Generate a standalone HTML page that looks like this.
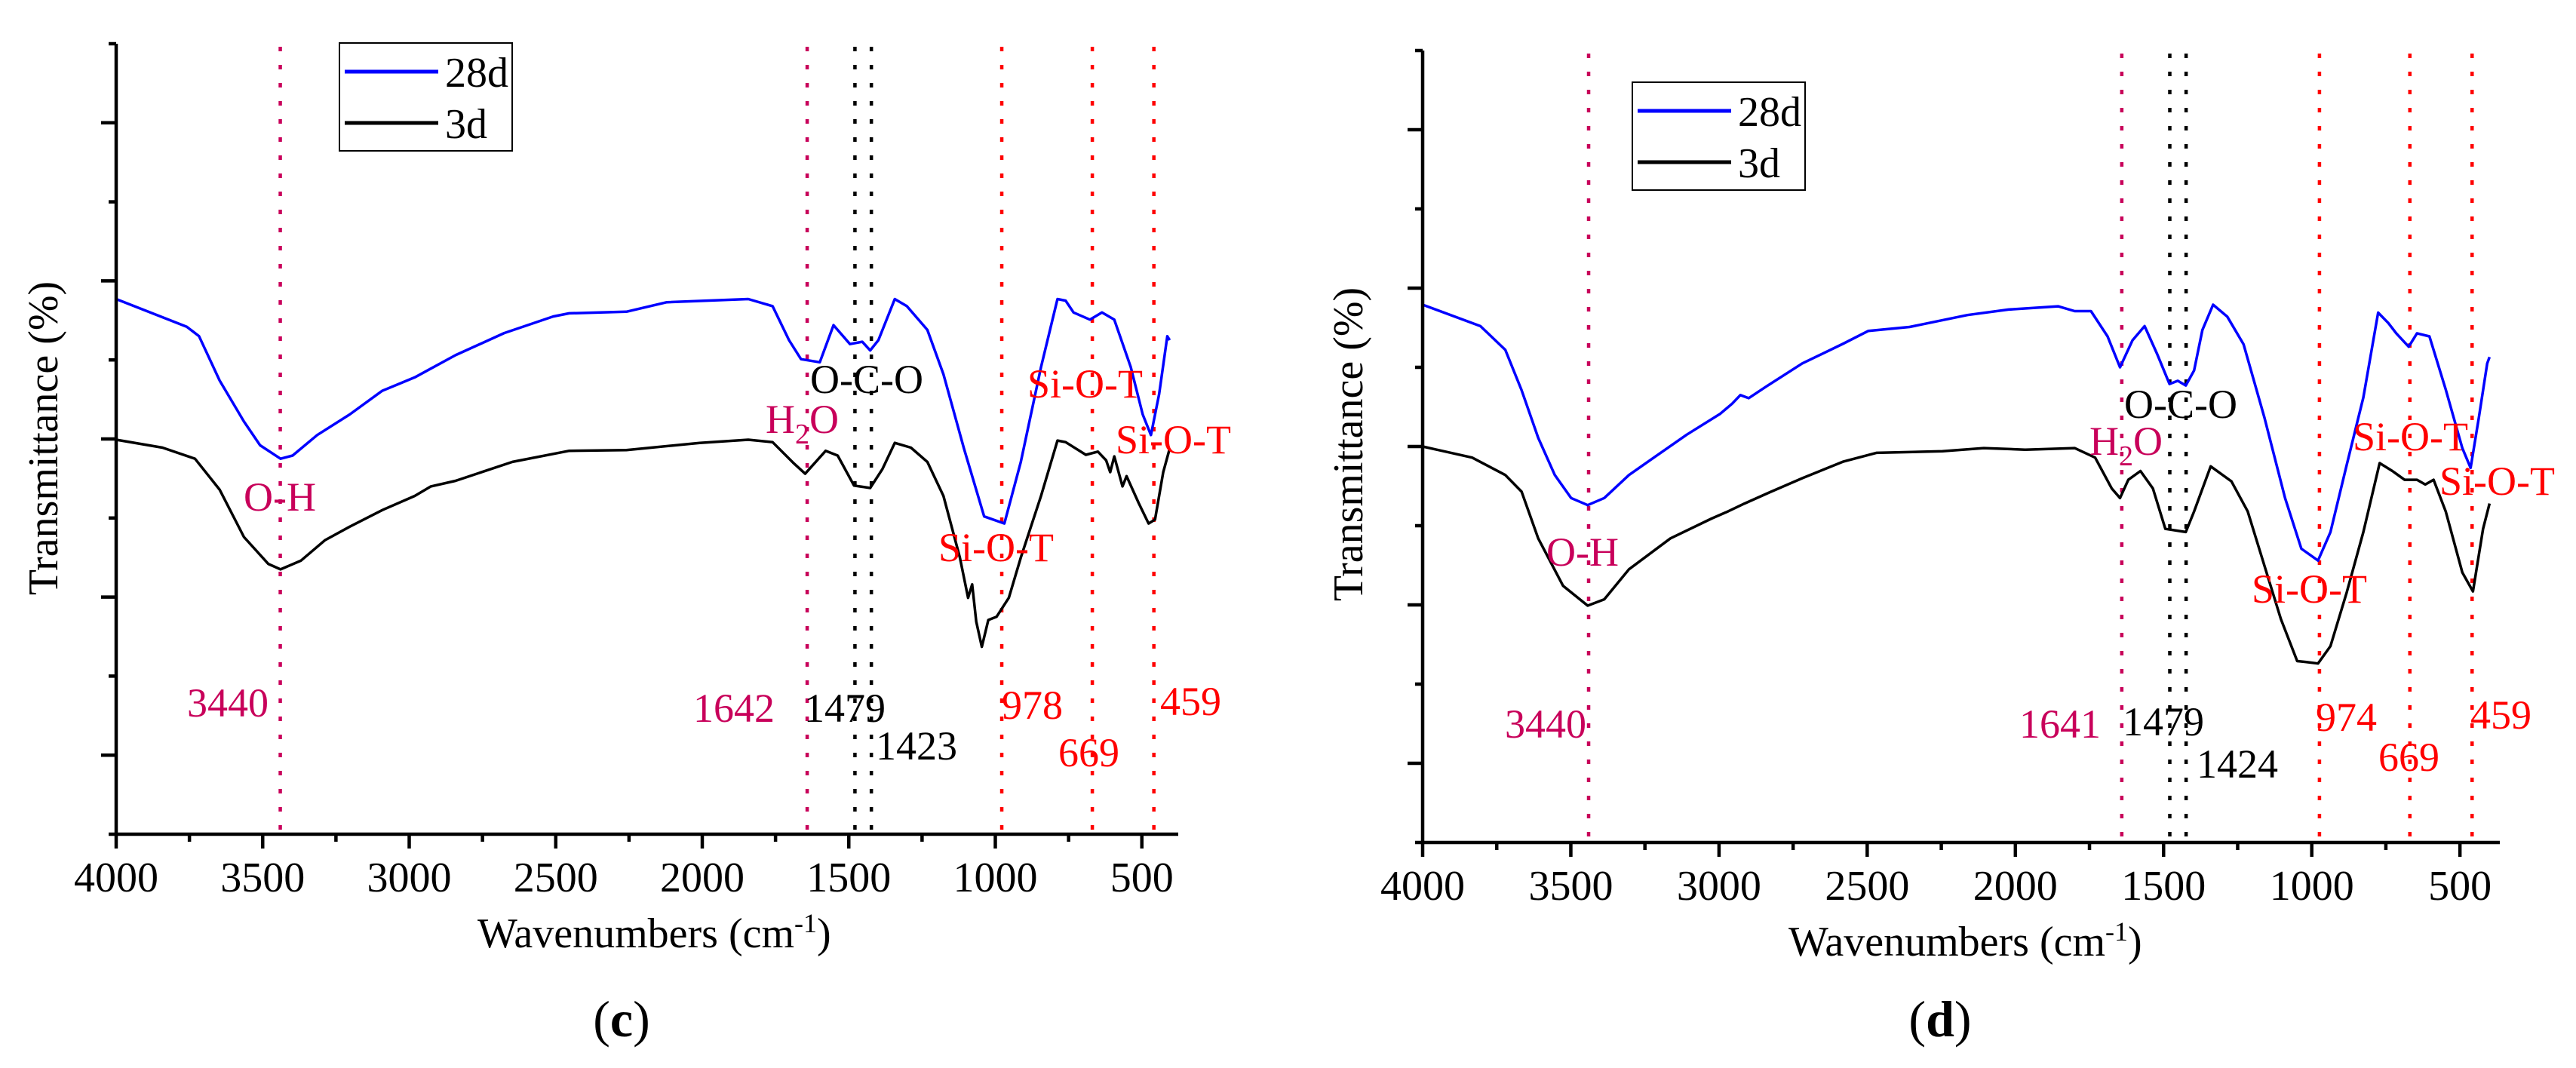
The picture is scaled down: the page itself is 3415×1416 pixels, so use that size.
<!DOCTYPE html>
<html><head><meta charset="utf-8">
<style>
html,body{margin:0;padding:0;background:#fff;}
svg, svg text, svg tspan{font-family:"Liberation Serif","Times New Roman","DejaVu Serif",serif !important;}
</style></head>
<body>
<svg id="fig" width="3415" height="1411" viewBox="0 0 3415 1411" xmlns="http://www.w3.org/2000/svg" font-family="Liberation Serif, serif"></svg>
<script>
// ---------- data (wavenumber cm-1, transmittance arbitrary 0-100) ----------
const xTicks = [4000, 3500, 3000, 2500, 2000, 1500, 1000, 500];
const xTickLabels = ["4000", "3500", "3000", "2500", "2000", "1500", "1000", "500"];

const cWn28 = [4000,3759,3717,3647,3564,3509,3439,3398,3314,3203,3092,2981,2926,2842,2676,2509,2454,2259,2121,1843,1760,1704,1663,1599,1552,1496,1454,1427,1399,1343,1302,1232,1177,1107,1038,969,913,844,788,760,733,677,636,594,538,497,469,441,413,405];
const cT28 = [67.7,64.2,63.0,57.4,52.2,49.2,47.5,47.9,50.5,53.1,56.1,57.8,58.9,60.6,63.4,65.5,65.9,66.1,67.3,67.7,66.8,62.5,60.1,59.7,64.4,62.0,62.3,61.2,62.5,67.7,66.8,63.8,58.2,48.8,40.2,39.3,47.1,59.1,67.7,67.5,66.0,65.1,66.0,65.1,59.1,53.1,50.5,55.7,63.0,62.5];
const cWn3 = [4000,3842,3731,3647,3564,3481,3439,3370,3287,3203,3092,2981,2926,2842,2648,2454,2259,2009,1843,1760,1690,1649,1579,1538,1482,1427,1385,1343,1288,1232,1177,1121,1093,1079,1065,1046,1024,996,954,913,844,788,760,691,650,622,608,594,566,552,511,477,455,427,405];
const cT3 = [49.9,48.9,47.5,43.6,37.6,34.2,33.5,34.6,37.2,38.9,41.0,42.8,44.0,44.7,47.1,48.5,48.6,49.5,49.9,49.6,47.0,45.6,48.5,47.9,44.1,43.8,46.2,49.5,48.9,47.1,42.8,35.0,29.9,31.6,26.9,23.7,27.1,27.5,29.9,35.0,42.8,49.8,49.6,48.0,48.4,47.3,45.8,47.8,44.0,45.3,41.9,39.3,39.8,45.8,48.8];

const dWn28 = [4000,3805,3721,3666,3610,3554,3499,3443,3387,3304,3220,3109,2997,2956,2928,2900,2844,2719,2580,2496,2357,2162,2023,1856,1800,1745,1689,1647,1605,1564,1522,1480,1452,1425,1397,1369,1333,1285,1230,1160,1090,1035,979,937,882,826,776,742,715,673,645,603,548,492,464,436,408,400];
const dT28 = [67.9,65.2,62.2,57.1,51.1,46.4,43.5,42.6,43.5,46.4,48.6,51.5,54.1,55.4,56.5,56.1,57.5,60.5,63.0,64.6,65.1,66.6,67.3,67.7,67.1,67.1,63.9,60.0,63.4,65.2,61.7,57.9,58.3,57.7,59.6,64.7,67.9,66.4,62.9,53.7,43.5,37.1,35.6,39.2,47.7,56.2,66.9,65.6,64.3,62.6,64.3,63.9,57.2,49.8,47.3,53.7,60.5,61.3];
const dWn3 = [4000,3833,3721,3666,3610,3526,3443,3387,3304,3164,3025,2970,2914,2830,2719,2580,2469,2246,2107,1967,1800,1731,1675,1647,1619,1578,1536,1494,1425,1397,1341,1271,1216,1160,1104,1049,1021,979,937,882,826,771,728,687,645,617,589,548,492,456,422,400];
const dT3 = [50.0,48.6,46.4,44.3,38.4,32.4,29.9,30.7,34.5,38.4,40.9,41.8,42.8,44.2,46.0,48.1,49.2,49.4,49.8,49.6,49.8,48.6,44.7,43.5,45.8,46.9,44.7,39.6,39.2,41.8,47.5,45.6,41.8,35.0,28.2,22.9,22.8,22.6,24.8,31.6,39.2,47.9,46.9,45.8,45.8,45.2,45.8,41.8,34.1,31.7,39.6,42.8];

const cMarks = [3440, 1642, 1479, 1423, 978, 669, 459];
const dMarks = [3440, 1641, 1479, 1424, 974, 669, 459];
const markColors = ["#c8005a","#c8005a","#000","#000","#ff0000","#ff0000","#ff0000"];

const NS = "http://www.w3.org/2000/svg";
const FONT = "Liberation Serif, Times New Roman, serif";
const svg = document.getElementById("fig");
function mk(tag, attrs, parent){
  const e = document.createElementNS(NS, tag);
  for (const k in attrs) e.setAttribute(k, attrs[k]);
  if (tag === "text") e.setAttribute("font-family", FONT);
  (parent||svg).appendChild(e);
  return e;
}

function panel(P){
  const g = mk("g", {});
  
  
  const sx = wn => P.x0 + (4000 - wn) * P.k;
  const sy = v => P.yBot - v / 100 * (P.yBot - P.yTop);

  P.marks.forEach((m, i) => {
    const l = mk("line", {x1:sx(m), x2:sx(m), y1:P.yTop+4, y2:P.yBot, stroke:markColors[i], "stroke-width":4.5, "stroke-dasharray":"6 18"}, g);
    
    
  });

  const line = (wn, t, col, nm) => {
    const d = wn.map((w, i) => (i ? "L" : "M") + sx(w).toFixed(1) + " " + sy(t[i]).toFixed(1)).join(" ");
    const p = mk("path", {d:d, fill:"none", stroke:col, "stroke-width":3.5, "stroke-linejoin":"round"}, g);
    
    
  };
  line(P.wn3, P.t3, "#000", "series-3d");
  line(P.wn28, P.t28, "#0000ff", "series-28d");

  const ax = mk("path", {d:`M${P.x0} ${P.yTop} L${P.x0} ${P.yBot} L${P.xEnd} ${P.yBot}`, fill:"none", stroke:"#000", "stroke-width":4.5}, g);
  
  
  mk("line", {x1:P.x0-10, x2:P.x0, y1:P.yTop, y2:P.yTop, stroke:"#000", "stroke-width":4.5}, g);
  for (let i = 0; i < 10; i++) {
    const y = P.yTop + (i + 1) * (P.yBot - P.yTop) / 10;
    const major = i % 2 === 0;
    mk("line", {x1:P.x0 - (major ? 20 : 10), x2:P.x0, y1:y, y2:y, stroke:"#000", "stroke-width":4.5}, g);
  }
  xTicks.forEach((t, i) => {
    mk("line", {x1:sx(t), x2:sx(t), y1:P.yBot, y2:P.yBot + 19, stroke:"#000", "stroke-width":4.5}, g);
    const minor = t - 250;
    if (sx(minor) < P.xEnd) mk("line", {x1:sx(minor), x2:sx(minor), y1:P.yBot, y2:P.yBot + 10, stroke:"#000", "stroke-width":4.5}, g);
    const tx = mk("text", {x:sx(t), y:P.yBot + 76, "font-size":56, "text-anchor":"middle"}, g);
    tx.textContent = xTickLabels[i];
    
    
  });

  const xt = mk("text", {x:P.xTitle, y:P.yBot + 150, "font-size":56}, g);
  xt.innerHTML = 'Wavenumbers (cm<tspan dy="-20" font-size="36">-1</tspan><tspan dy="20">)</tspan>';
  
  
  const yt = mk("text", {x:0, y:0, "font-size":56, "text-anchor":"middle", transform:`translate(${P.yTitleX},${P.yTitleY}) rotate(-90)`}, g);
  yt.textContent = "Transmittance (%)";
  
  
  const pl = mk("text", {x:P.labelX, y:1374, "font-size":68, "text-anchor":"middle"}, g);
  pl.innerHTML = '(<tspan font-weight="bold">' + P.letter + '</tspan>)';
  
  

  const lg = mk("g", {}, g);
  
  
  mk("rect", {x:P.lg[0], y:P.lg[1], width:229, height:143, fill:"#fff", stroke:"#000", "stroke-width":2}, lg);
  mk("line", {x1:P.lg[0]+7, x2:P.lg[0]+131, y1:P.lg[1]+38, y2:P.lg[1]+38, stroke:"#0000ff", "stroke-width":5}, lg);
  mk("line", {x1:P.lg[0]+7, x2:P.lg[0]+131, y1:P.lg[1]+106, y2:P.lg[1]+106, stroke:"#000", "stroke-width":5}, lg);
  const l1 = mk("text", {x:P.lg[0]+140, y:P.lg[1]+58, "font-size":56}, lg); l1.textContent = "28d";
  
  
  const l2 = mk("text", {x:P.lg[0]+140, y:P.lg[1]+126, "font-size":56}, lg); l2.textContent = "3d";
  
  

  P.ann.forEach(a => {
    const t = mk("text", {x:a[0], y:a[1], "font-size":54, fill:a[3]}, g);
    if (a[2] === "H2O") t.innerHTML = 'H<tspan dy="14" font-size="38">2</tspan><tspan dy="-14">O</tspan>';
    else t.textContent = a[2];
    
    
  });
}

const CR = "#c8005a", RD = "#ff0000", BK = "#000";
panel({name:"panel-c", letter:"c", x0:154, k:0.3885, yTop:58, yBot:1106, xEnd:1562,
  wn28:cWn28, t28:cT28, wn3:cWn3, t3:cT3, marks:cMarks,
  xTitle:633, yTitleX:76, yTitleY:581, labelX:824, lg:[450,57],
  ann:[[323,677,"O-H",CR],[248,950,"3440",CR],[1015,574,"H2O",CR],[1074,521,"O-C-O",BK],
       [1362,527,"Si-O-T",RD],[1479,601,"Si-O-T",RD],[1244,744,"Si-O-T",RD],
       [919,957,"1642",CR],[1066,957,"1479",BK],[1161,1007,"1423",BK],
       [1328,953,"978",RD],[1403,1016,"669",RD],[1538,948,"459",RD]]});
panel({name:"panel-d", letter:"d", x0:1886, k:0.3929, yTop:67, yBot:1117, xEnd:3314,
  wn28:dWn28, t28:dT28, wn3:dWn3, t3:dT3, marks:dMarks,
  xTitle:2371, yTitleX:1806, yTitleY:589, labelX:2572, lg:[2164,109],
  ann:[[2050,750,"O-H",CR],[1995,978,"3440",CR],[2770,603,"H2O",CR],[2816,554,"O-C-O",BK],
       [3119,597,"Si-O-T",RD],[3234,656,"Si-O-T",RD],[2985,799,"Si-O-T",RD],
       [2677,978,"1641",CR],[2814,975,"1479",BK],[2912,1031,"1424",BK],
       [3070,969,"974",RD],[3153,1022,"669",RD],[3275,966,"459",RD]]});
</script>
</body></html>
